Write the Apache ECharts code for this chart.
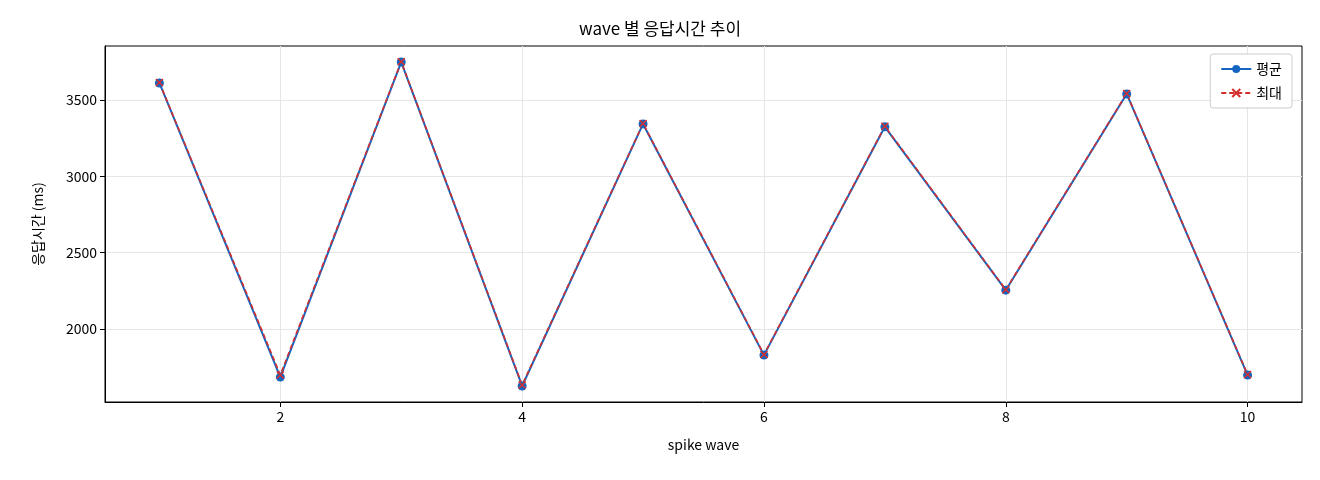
<!DOCTYPE html>
<html><head><meta charset="utf-8">
<script src="https://cdn.jsdelivr.net/npm/echarts@6/dist/echarts.min.js"></script>
<style>html,body{margin:0;padding:0;background:#fff}#c{width:1320px;height:480px}</style>
</head><body><div id="c"></div>
<script>
const waves=[1,2,3,4,5,6,7,8,9,10];
const avgVals=[3611,1686,3748,1628,3343,1830,3324,2255,3539,1699];
const maxVals=[3614,1700,3750,1634,3346,1834,3328,2258,3542,1703];
const xTicks=[2,4,6,8,10];
const yTicks=[2000,2500,3000,3500];
const font='"Noto Sans CJK KR", "DejaVu Sans", sans-serif';
const chart=echarts.init(document.getElementById('c'));
chart.setOption({
  animation:false,
  textStyle:{fontFamily:font},
  title:{text:'wave 별 응답시간 추이',left:'center',top:15,textStyle:{fontSize:17,fontWeight:'normal',color:'#000',fontFamily:font}},
  grid:{left:105,right:18,top:46,bottom:78,show:true,borderColor:'#000',borderWidth:1},
  legend:{right:28,top:54,orient:'vertical',itemGap:10,itemWidth:30,itemHeight:10,
    backgroundColor:'#fff',borderColor:'#ccc',borderWidth:1,borderRadius:3,padding:[8,10],
    textStyle:{fontSize:14,color:'#000'},
    data:['평균','최대']},
  xAxis:{type:'value',min:0.55,max:10.45,name:'spike wave',nameLocation:'middle',nameGap:36,
    nameTextStyle:{fontSize:14,color:'#000'},
    axisLine:{lineStyle:{color:'#000'}},
    axisTick:{customValues:xTicks,lineStyle:{color:'#000'}},
    axisLabel:{customValues:xTicks,fontSize:14,color:'#000'},
    splitLine:{show:true,lineStyle:{color:'#e6e6e6'}}},
  yAxis:{type:'value',min:1523,max:3853,name:'응답시간 (ms)',nameLocation:'middle',nameGap:60,
    nameTextStyle:{fontSize:14,color:'#000'},
    axisLine:{show:true,lineStyle:{color:'#000'}},
    axisTick:{show:true,customValues:yTicks,lineStyle:{color:'#000'}},
    axisLabel:{customValues:yTicks,fontSize:14,color:'#000',formatter:v=>String(v)},
    splitLine:{show:true,lineStyle:{color:'#e6e6e6'}}},
  series:[
    {name:'평균',type:'line',data:waves.map((w,i)=>[w,avgVals[i]]),symbol:'circle',symbolSize:9,
      lineStyle:{color:'#1565c0',width:2},itemStyle:{color:'#1565c0'}},
    {name:'최대',type:'line',data:waves.map((w,i)=>[w,maxVals[i]]),symbol:'path://M0,0L10,10M10,0L0,10',symbolSize:7,
      lineStyle:{color:'#d32f2f',width:1.6,type:[5,3]},itemStyle:{color:'none',borderColor:'#d32f2f',borderWidth:1.6}}
  ]
});
</script></body></html>
